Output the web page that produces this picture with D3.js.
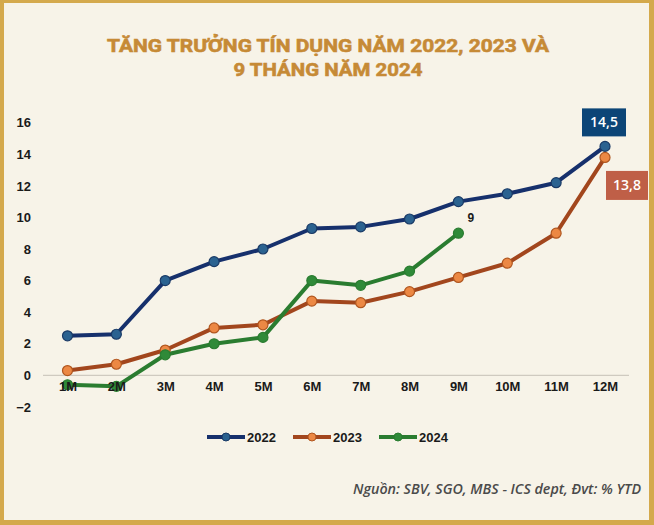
<!DOCTYPE html>
<html><head><meta charset="utf-8">
<script src="https://cdn.jsdelivr.net/npm/d3@7"></script>
<style>html,body{margin:0;padding:0;background:#f7f3e8;}svg{display:block;}</style>
</head><body>
<svg id="c" width="654" height="525"></svg>
<script>
const months = ["1M","2M","3M","4M","5M","6M","7M","8M","9M","10M","11M","12M"];
const yTicks = [-2,0,2,4,6,8,10,12,14,16];
const s2022 = [2.5,2.6,6.0,7.2,8.0,9.3,9.4,9.9,11.0,11.5,12.2,14.5];
const s2023 = [0.3,0.7,1.6,3.0,3.2,4.7,4.6,5.3,6.2,7.1,9.0,13.8];
const s2024 = [-0.6,-0.7,1.3,2.0,2.4,6.0,5.7,6.6,9.0];
const seriesNames = ["2022","2023","2024"];
const titleLines = ["TĂNG TRƯỞNG TÍN DỤNG NĂM 2022, 2023 VÀ","9 THÁNG NĂM 2024"];
const sourceText = "Nguồn: SBV, SGO, MBS - ICS dept, Đvt: % YTD";

const series = [
  {name: seriesNames[0], values: s2022, line: "#16306c", fill: "#2b6290", stroke: "#1a3a66"},
  {name: seriesNames[1], values: s2023, line: "#a2461d", fill: "#ec8844", stroke: "#b0561f"},
  {name: seriesNames[2], values: s2024, line: "#2a7c30", fill: "#2f8a38", stroke: "#2a7c30"}
];

const svg = d3.select("#c");
const W = 654, H = 525;
svg.append("rect").attr("x",0).attr("y",0).attr("width",W).attr("height",H).attr("fill","#d4a94c");
svg.append("rect").attr("x",4).attr("y",3).attr("width",W-9).attr("height",H-8).attr("fill","#f7f3e8");

// title
const title = svg.append("g");
titleLines.forEach((t,i)=>{
  title.append("text").attr("x",328).attr("y",52+i*24).attr("text-anchor","middle")
    .attr("font-family","'Liberation Sans Narrow','Roboto','Liberation Sans',sans-serif")
    .attr("font-weight","bold").attr("font-size",19).attr("fill","#c68a36")
    .attr("stroke","#c68a36").attr("stroke-width",0.6)
    .attr("textLength", i===0?442:189).attr("lengthAdjust","spacingAndGlyphs")
    .text(t);
});

const x = d3.scalePoint().domain(months).range([67.5,605]);
const y = d3.scaleLinear().domain([0,16]).range([375.3,122.7]);

// zero line
svg.append("line").attr("x1",43).attr("x2",629).attr("y1",y(0)).attr("y2",y(0))
  .attr("stroke","#cfcac0").attr("stroke-width",1.2);

// y axis
const yAxis = d3.axisLeft(y).tickValues(yTicks).tickSize(0).tickPadding(0);
const yg = svg.append("g").attr("transform","translate(31,0)").call(yAxis);
yg.select(".domain").remove();
yg.selectAll("text").attr("font-family","'Liberation Sans',Arial,sans-serif")
  .attr("font-weight","bold").attr("font-size",13).attr("fill","#1a1a1a");

// lines
const line = d3.line().x((d,i)=>x(months[i])).y(d=>y(d));
series.forEach(s=>{
  svg.append("path").datum(s.values).attr("d",line).attr("fill","none")
    .attr("stroke",s.line).attr("stroke-width",4).attr("stroke-linejoin","round");
});
series.forEach(s=>{
  svg.append("g").selectAll("circle").data(s.values).join("circle")
    .attr("cx",(d,i)=>x(months[i])).attr("cy",d=>y(d)).attr("r",5)
    .attr("fill",s.fill).attr("stroke",s.stroke).attr("stroke-width",1.2);
});

// x axis labels (drawn over)
const xAxis = d3.axisBottom(x).tickSize(0).tickPadding(0);
const xg = svg.append("g").attr("transform","translate(0,382)").call(xAxis);
xg.select(".domain").remove();
xg.selectAll("text").attr("font-family","'Liberation Sans',Arial,sans-serif")
  .attr("font-weight","bold").attr("font-size",13).attr("fill","#1a1a1a");

// annotation 9
svg.append("text").attr("x",x("9M")+9).attr("y",y(9)-11).attr("font-family","'Liberation Sans',Arial,sans-serif")
  .attr("font-weight","bold").attr("font-size",12).attr("fill","#1a1a1a").text(String(s2024[8]));

// value boxes
function box(cx, cy, w, h, col, txt){
  svg.append("rect").attr("x",cx-w/2).attr("y",cy-h/2).attr("width",w).attr("height",h).attr("fill",col);
  svg.append("text").attr("x",cx).attr("y",cy+5).attr("text-anchor","middle")
    .attr("font-family","'Open Sans','Noto Sans',sans-serif").attr("font-weight",600)
    .attr("font-size",14).attr("fill","#fff").text(txt);
}
const fmt = v => String(v).replace(".",",");
box(x("12M")-1, y(s2022[11])-24, 44, 28, "#0c4577", fmt(s2022[11]));
box(x("12M")+22, y(s2023[11])+28, 42, 29, "#bf5f47", fmt(s2023[11]));

// legend
const lg = svg.append("g").attr("transform","translate(0,437)");
const lx = [207,293,379];
series.forEach((s,i)=>{
  lg.append("line").attr("x1",lx[i]).attr("x2",lx[i]+38).attr("y1",0).attr("y2",0)
    .attr("stroke",s.line).attr("stroke-width",4);
  lg.append("circle").attr("cx",lx[i]+19).attr("cy",0).attr("r",4)
    .attr("fill",s.fill).attr("stroke",s.stroke).attr("stroke-width",1);
  lg.append("text").attr("x",lx[i]+40).attr("y",5).attr("font-family","'Liberation Sans',Arial,sans-serif")
    .attr("font-weight","bold").attr("font-size",13).attr("fill","#1a1a1a").text(s.name);
});

// source
svg.append("text").attr("x",641).attr("y",494).attr("text-anchor","end")
  .attr("font-family","'Open Sans','Noto Sans',sans-serif").attr("font-style","italic")
  .attr("font-weight",600).attr("font-size",14).attr("fill","#4a4a4a")
  .attr("textLength",288).attr("lengthAdjust","spacingAndGlyphs").text(sourceText);
</script>
</body></html>
